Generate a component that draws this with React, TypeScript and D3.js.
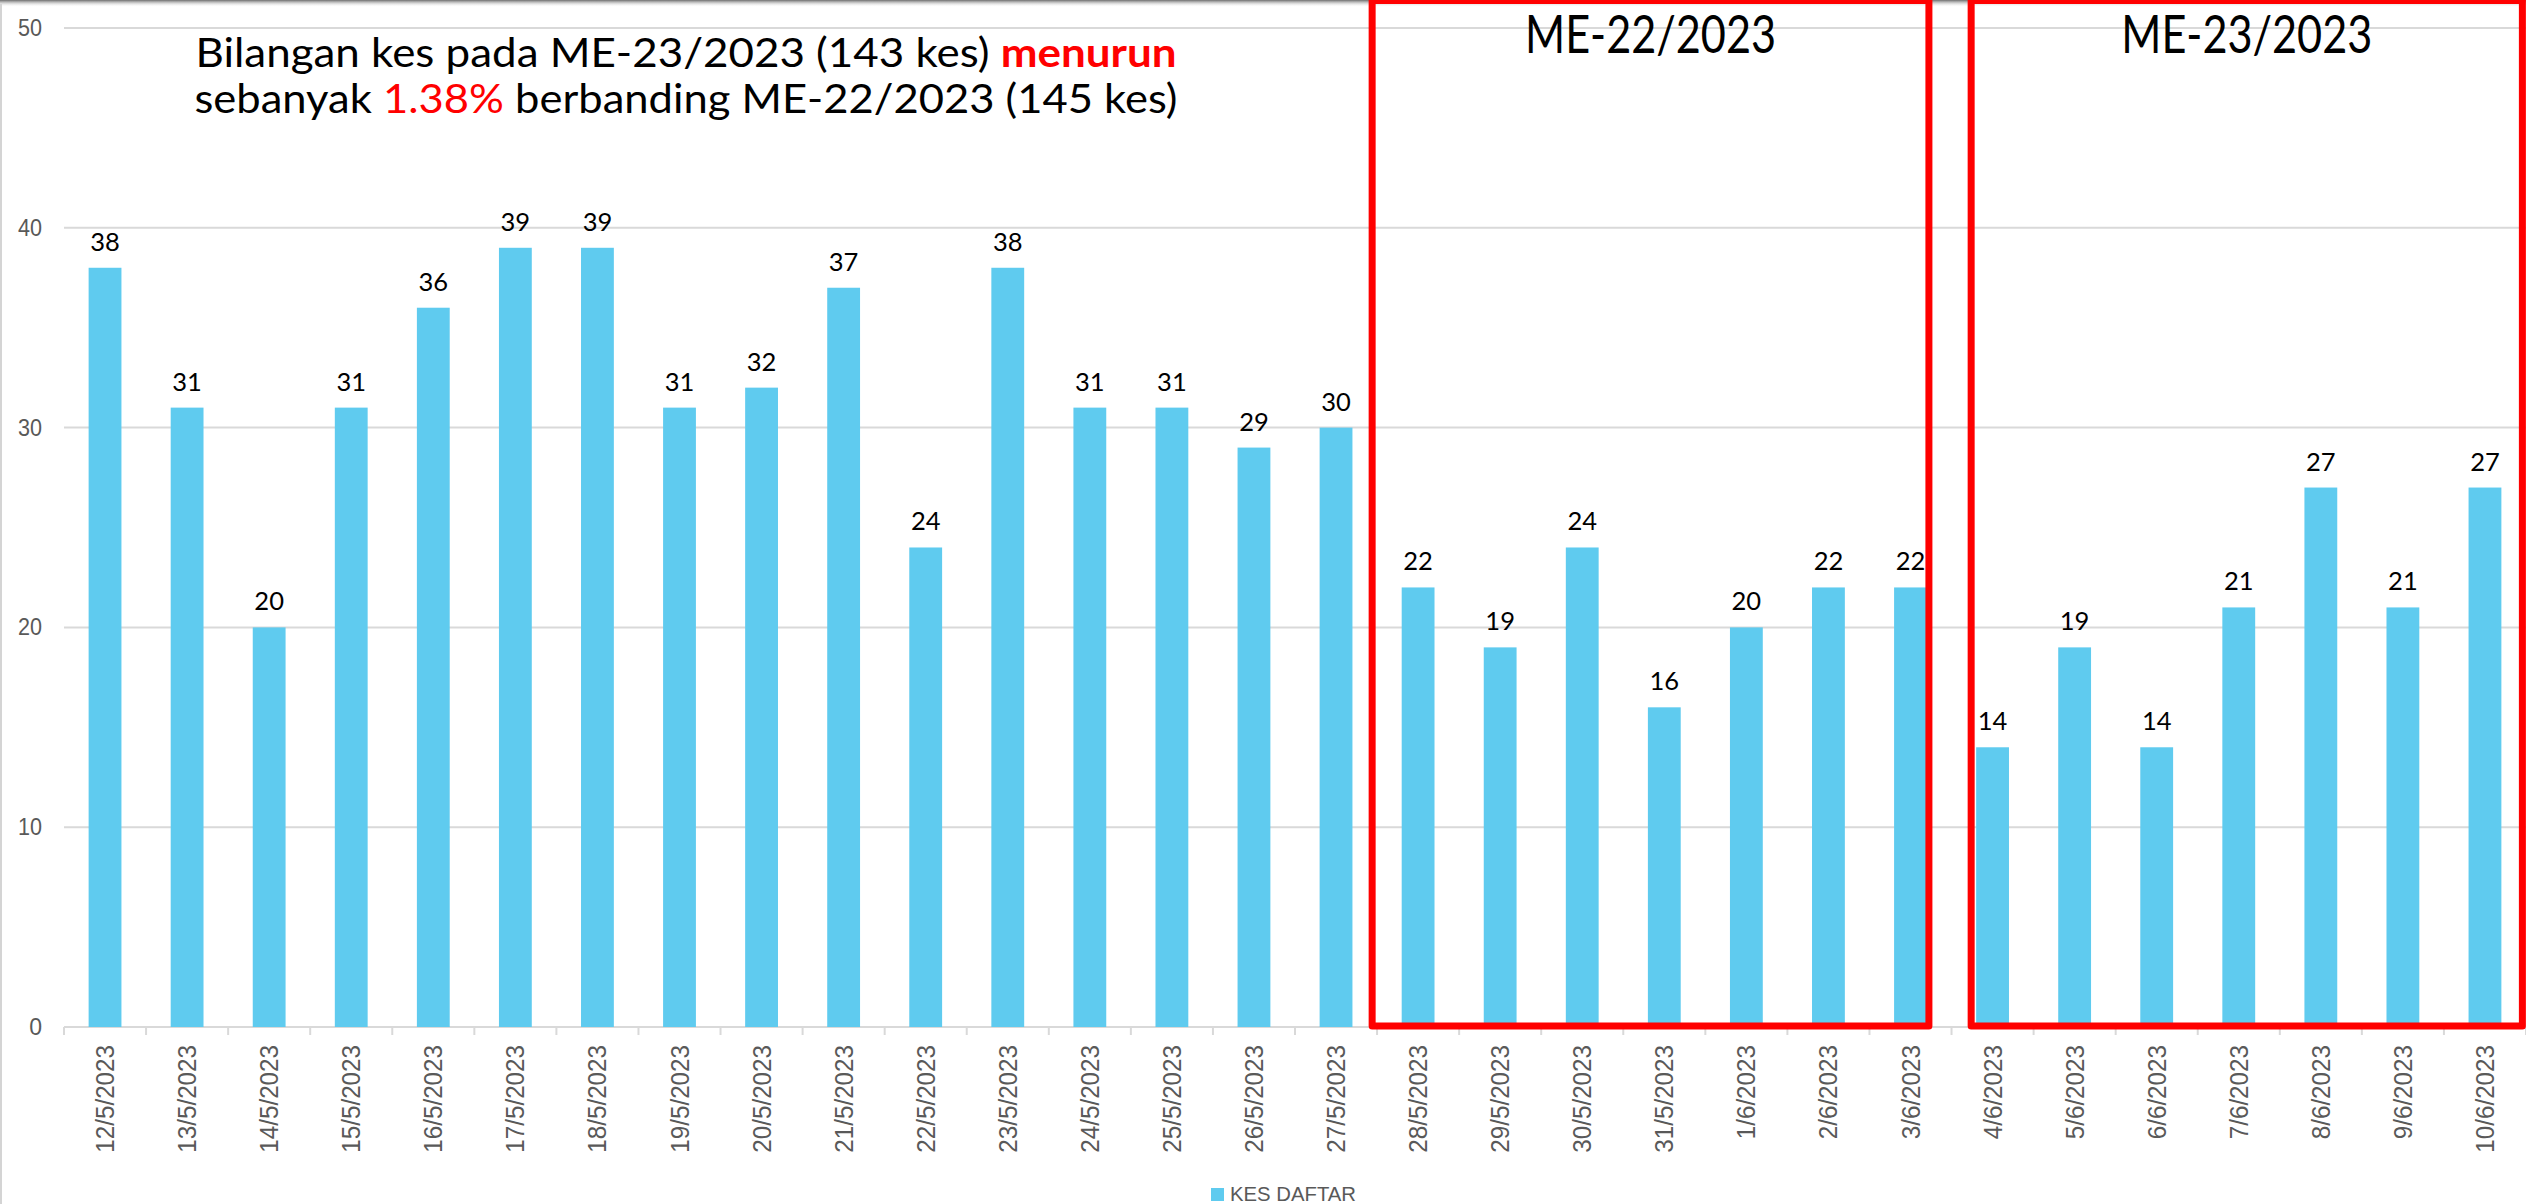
import React from 'react';
import * as d3 from 'd3';

// daily registered cases (KES DAFTAR)
const dates = [
  '12/5/2023', '13/5/2023', '14/5/2023', '15/5/2023', '16/5/2023', '17/5/2023', '18/5/2023',
  '19/5/2023', '20/5/2023', '21/5/2023', '22/5/2023', '23/5/2023', '24/5/2023', '25/5/2023',
  '26/5/2023', '27/5/2023', '28/5/2023', '29/5/2023', '30/5/2023', '31/5/2023', '1/6/2023',
  '2/6/2023', '3/6/2023', '4/6/2023', '5/6/2023', '6/6/2023', '7/6/2023', '8/6/2023',
  '9/6/2023', '10/6/2023',
];
const kesDaftar = [
  38, 31, 20, 31, 36, 39, 39, 31, 32, 37, 24, 38, 31, 31, 29, 30,
  22, 19, 24, 16, 20, 22, 22,
  14, 19, 14, 21, 27, 21, 27,
];
const yTicks = [0, 10, 20, 30, 40, 50];

// epidemiological weeks highlighted with red boxes
const weekLabels = ['ME-22/2023', 'ME-23/2023'];
const weekFirst = ['28/5/2023', '4/6/2023'];
const weekLast = ['3/6/2023', '10/6/2023'];

const seriesName = 'KES DAFTAR';

const W = 2526;
const H = 1204;
const BAR = '#5fcbef';
const GRID = '#d9d9d9';
const AXIS_TEXT = '#595959';

const App = () => {
  const x = d3.scaleBand<string>()
    .domain(dates)
    .range([64, 2526])
    .paddingInner(0.6)
    .paddingOuter(0.3);

  const y = d3.scaleLinear()
    .domain([0, 50])
    .range([1027, 28]);

  const step = x.step();
  const bw = x.bandwidth();
  const tickX = d3.range(dates.length + 1).map(i => 64 + i * step);

  // box edges, offsets tuned against the bars
  const boxes = weekLabels.map((label, i) => {
    const left = i === 0 ? x(weekFirst[i])! - step * 0.36 : x(weekFirst[i])! - 5;
    const right = i === 0 ? x(weekLast[i])! + bw + 2 : x(weekLast[i])! + bw + 21;
    return { label, left, right };
  });

  return (
    <svg width={W} height={H} style={{ position: 'absolute', left: 0, top: 0, background: '#fff' }}>
      <defs>
        <linearGradient id="topShade" x1="0" y1="0" x2="0" y2="1">
          <stop offset="0" stopColor="#6e6e6e" />
          <stop offset="1" stopColor="#ffffff" stopOpacity="0" />
        </linearGradient>
      </defs>
      <rect x={0} y={0} width={W} height={H} fill="#fff" />
      <rect x={0} y={0} width={W} height={7} fill="url(#topShade)" />
      <line x1={1} x2={1} y1={4} y2={H} stroke="#d4d4d4" strokeWidth={2} />

      {/* gridlines + y labels */}
      {yTicks.map(t => (
        <g key={t}>
          <line x1={64} x2={W} y1={y(t)} y2={y(t)} stroke={GRID} strokeWidth={2} />
          <text x={42} y={y(t) + 8} textAnchor="end" fontFamily="Liberation Sans, Arial, sans-serif"
            fontSize={23} fill={AXIS_TEXT} textLength={t === 0 ? undefined : 24} lengthAdjust="spacingAndGlyphs">
            {t}
          </text>
        </g>
      ))}

      {/* x ticks */}
      {tickX.map((tx, i) => (
        <line key={i} x1={tx} x2={tx} y1={y(0)} y2={y(0) + 8} stroke={GRID} strokeWidth={2} />
      ))}

      {/* bars */}
      {dates.map((d, i) => (
        <rect key={d} x={x(d)} y={y(kesDaftar[i])} width={bw} height={y(0) - y(kesDaftar[i])} fill={BAR} />
      ))}

      {/* value labels */}
      {dates.map((d, i) => (
        <text key={d} x={x(d)! + bw / 2} y={y(kesDaftar[i]) - 17} textAnchor="middle"
          fontFamily="Lato, sans-serif" fontSize={25.5} fill="#000">
          {kesDaftar[i]}
        </text>
      ))}

      {/* x labels */}
      {dates.map(d => (
        <text key={d}
          transform={`translate(${x(d)! + bw / 2 + 9},1045) rotate(-90) scale(0.95,1)`}
          textAnchor="end" fontFamily="Liberation Sans, Arial, sans-serif" fontSize={25.5} fill={AXIS_TEXT}>
          {d}
        </text>
      ))}

      {/* red week boxes */}
      {boxes.map(b => (
        <g key={b.label}>
          <rect x={b.left} y={0.5} width={b.right - b.left} height={y(0) - 1 - 0.5}
            fill="none" stroke="#ff0000" strokeWidth={7} strokeLinejoin="round" />
          <text x={(b.left + b.right) / 2} y={53} textAnchor="middle" fontFamily="Lato, sans-serif"
            fontSize={53} fill="#000" textLength={251} lengthAdjust="spacingAndGlyphs">
            {b.label}
          </text>
        </g>
      ))}

      {/* title annotation */}
      <text x={686} y={67} textAnchor="middle" fontFamily="Lato, sans-serif" fontSize={41} fill="#000"
        textLength={981} lengthAdjust="spacingAndGlyphs">
        Bilangan kes pada ME-23/2023 (143 kes) <tspan fill="#ff0000" fontWeight="bold">menurun</tspan>
      </text>
      <text x={686} y={113} textAnchor="middle" fontFamily="Lato, sans-serif" fontSize={41} fill="#000"
        textLength={983} lengthAdjust="spacingAndGlyphs">
        sebanyak <tspan fill="#ff0000">1.38%</tspan> berbanding ME-22/2023 (145 kes)
      </text>

      {/* legend */}
      <rect x={1211} y={1188} width={13} height={13} fill={BAR} />
      <text x={1230} y={1201} fontFamily="Liberation Sans, Arial, sans-serif" fontSize={21} fill={AXIS_TEXT}
        textLength={126} lengthAdjust="spacingAndGlyphs">
        {seriesName}
      </text>
    </svg>
  );
};

export default App;
